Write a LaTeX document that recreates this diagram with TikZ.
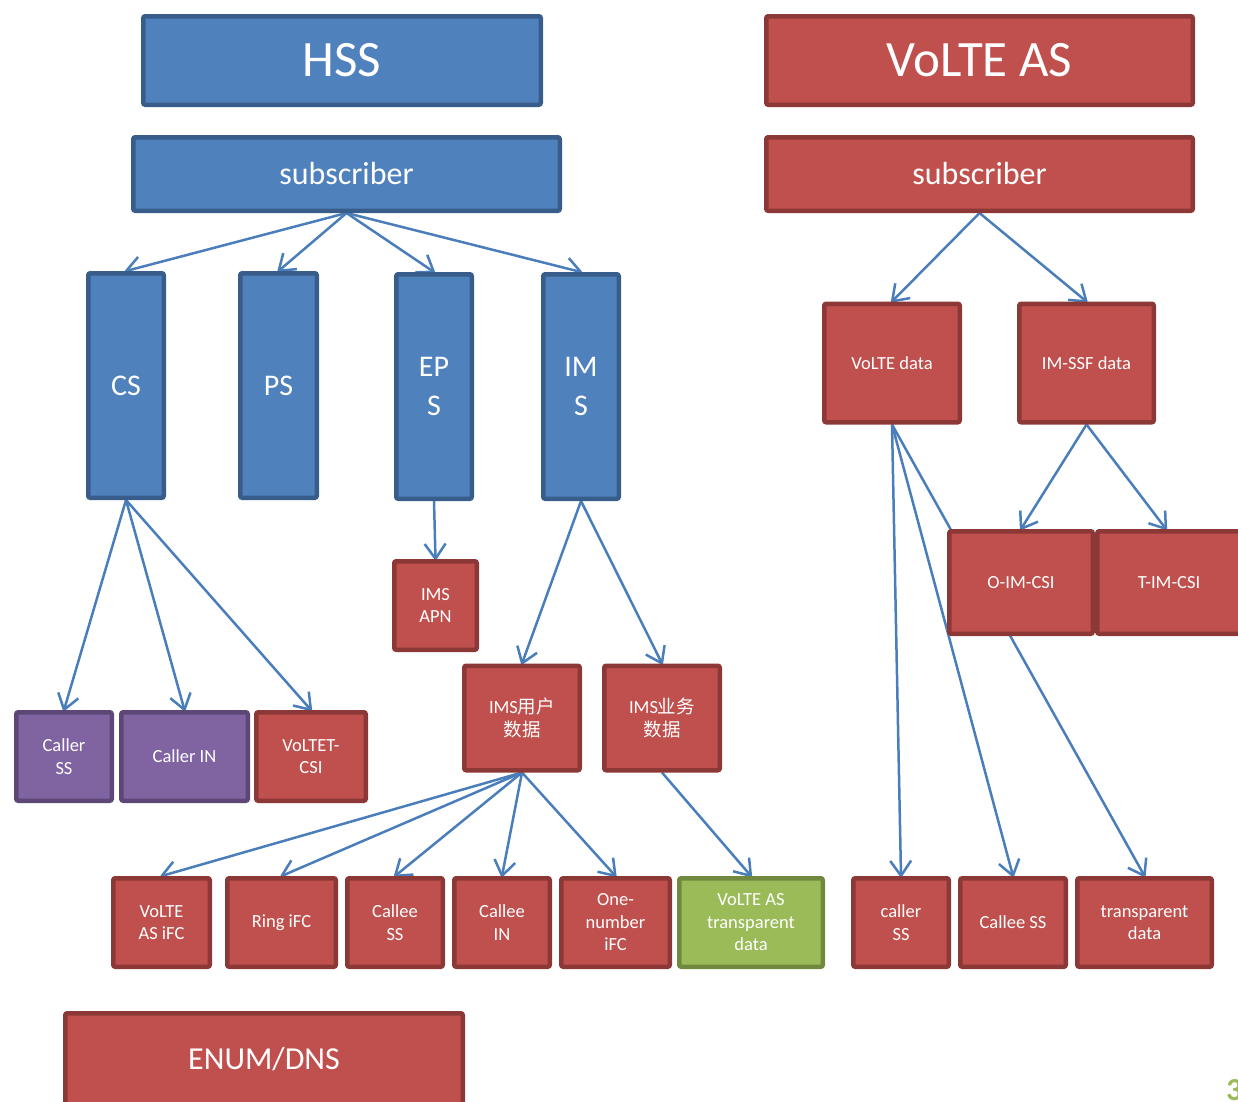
\documentclass[tikz,border=0pt]{standalone}
\usepackage{fontspec}
\setmainfont{Carlito}
\newfontfamily\cjk{Noto Sans CJK SC}
\usetikzlibrary{arrows.meta}
\pgfdeclarelayer{bg}
\pgfsetlayers{bg,main}
\definecolor{hssblue}{HTML}{4F81BD}
\definecolor{hssbluedark}{HTML}{385D8A}
\definecolor{asred}{HTML}{C0504D}
\definecolor{asreddark}{HTML}{8C3836}
\definecolor{pur}{HTML}{8064A2}
\definecolor{purdark}{HTML}{5C4776}
\definecolor{grn}{HTML}{9BBB59}
\definecolor{grndark}{HTML}{71893F}
\definecolor{arrowblue}{HTML}{4A7EBB}
\tikzset{
  box/.style={rectangle, line width=4.5pt, rounded corners=2pt, text=white, align=center, inner sep=0pt, font=\fontsize{18.5}{22.5}\selectfont},
  bluebox/.style={box, fill=hssblue, draw=hssbluedark},
  redbox/.style={box, fill=asred, draw=asreddark},
  purbox/.style={box, fill=pur, draw=purdark},
  grnbox/.style={box, fill=grn, draw=grndark},
  titlefont/.style={font=\fontsize{51}{60}\selectfont},
  midfont/.style={font=\fontsize{32}{38}\selectfont},
  colfont/.style={font=\fontsize{30}{39}\selectfont},
  conn/.style={draw=arrowblue, line width=2.5pt, line join=round, shorten >=-1pt, -{Straight Barb[length=15pt,width=21pt,line join=round]}},
}
\begin{document}
\begin{tikzpicture}[x=1pt,y=-1pt]
\useasboundingbox (0,0) rectangle (1238,1101);
\clip (0,0) rectangle (1238,1101);
% titles
\node[bluebox, titlefont, minimum width=397.5, minimum height=88.5] (hss) at (342,60.5) {HSS};
\node[redbox, titlefont, minimum width=426.5, minimum height=88.5] (vas) at (979.5,60.5) {VoLTE AS};
\node[bluebox, midfont, minimum width=426.5, minimum height=73.5] (subB) at (346.5,174) {subscriber};
\node[redbox, midfont, minimum width=426.5, minimum height=73.5] (subR) at (979.5,174) {subscriber};
% HSS columns
\node[bluebox, colfont, minimum width=75.5, minimum height=224.5] (cs) at (126,385.5) {CS};
\node[bluebox, colfont, minimum width=76.5, minimum height=224.5] (ps) at (278.5,385.5) {PS};
\node[bluebox, colfont, minimum width=75.5, minimum height=224.5] (eps) at (434,386.5) {EP\\S};
\node[bluebox, colfont, minimum width=75.5, minimum height=224.5] (ims) at (581,386.5) {IM\\S};
% second level
\node[redbox, minimum width=82.5, minimum height=88.5] (apn) at (435.5,605.5) {IMS\\APN};
\node[purbox, minimum width=95.5, minimum height=88.5] (css) at (64,756.5) {Caller\\SS};
\node[purbox, minimum width=126.5, minimum height=88.5] (cin) at (184.5,756.5) {Caller IN};
\node[redbox, minimum width=109.5, minimum height=88.5] (vcsi) at (311,756.5) {VoLTET-\\CSI};
\node[redbox, minimum width=115.5, minimum height=104.5] (imsu) at (522,718) {IMS{\cjk 用户}\\{\cjk 数据}};
\node[redbox, minimum width=115.5, minimum height=104.5] (imsb) at (662,718) {IMS{\cjk 业务}\\{\cjk 数据}};
% bottom row
\node[redbox, minimum width=96.5, minimum height=88.5] (b1) at (161.5,922.5) {VoLTE\\AS iFC};
\node[redbox, minimum width=108.5, minimum height=88.5] (b2) at (281.5,922.5) {Ring iFC};
\node[redbox, minimum width=95.5, minimum height=88.5] (b3) at (395,922.5) {Callee\\SS};
\node[redbox, minimum width=95.5, minimum height=88.5] (b4) at (502,922.5) {Callee\\IN};
\node[redbox, minimum width=108.5, minimum height=88.5] (b5) at (615.5,922.5) {One-\\number\\iFC};
\node[grnbox, minimum width=143.5, minimum height=88.5] (b6) at (751,922.5) {VoLTE AS\\transparent\\data};
\node[redbox, minimum width=95.5, minimum height=88.5] (b7) at (901,922.5) {caller\\SS};
\node[redbox, minimum width=105.5, minimum height=88.5] (b8) at (1013,922.5) {Callee SS};
\node[redbox, minimum width=134.5, minimum height=88.5] (b9) at (1144.5,922.5) {transparent\\data};
% VoLTE AS side
\node[redbox, minimum width=135.5, minimum height=118.5] (vd) at (892,363) {VoLTE data};
\node[redbox, minimum width=134.5, minimum height=118.5] (issf) at (1086.5,363) {IM-SSF data};
\node[redbox, minimum width=143.5, minimum height=102.5] (oim) at (1021,582.5) {O-IM-CSI};
\node[redbox, minimum width=143.5, minimum height=102.5] (tim) at (1169,582.5) {T-IM-CSI};
% ENUM
\node[redbox, midfont, minimum width=397.5, minimum height=91.5] (enum) at (264,1059) {ENUM/DNS};
\node[text=grn, font=\fontsize{32}{38}\selectfont\bfseries, anchor=base west, inner sep=0pt] (pg) at (1226,1100) {3};
% connectors
\begin{pgfonlayer}{bg}
\foreach \t in {cs,ps,eps,ims} \draw[conn] (subB.south) -- (\t.north);
\foreach \t in {css,cin,vcsi} \draw[conn] (cs.south) -- (\t.north);
\draw[conn] (eps.south) -- (apn.north);
\foreach \t in {imsu,imsb} \draw[conn] (ims.south) -- (\t.north);
\foreach \t in {b1,b2,b3,b4,b5} \draw[conn] (imsu.south) -- (\t.north);
\draw[conn] (imsb.south) -- (b6.north);
\foreach \t in {vd,issf} \draw[conn] (subR.south) -- (\t.north);
\draw[conn] (issf.south) -- (oim.north);
\draw[conn] (issf.south) -- ([xshift=-3pt]tim.north);
\foreach \t in {b7,b8,b9} \draw[conn] (vd.south) -- (\t.north);
\end{pgfonlayer}
\end{tikzpicture}
\end{document}
